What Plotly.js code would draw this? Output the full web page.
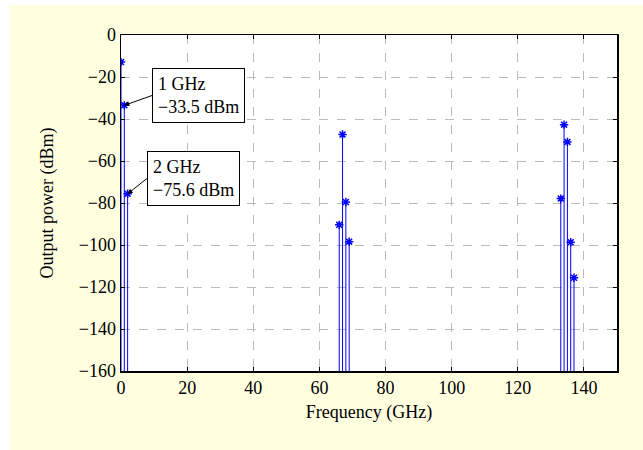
<!DOCTYPE html>
<html>
<head>
<meta charset="utf-8">
<script src="https://cdn.plot.ly/plotly-3.0.1.min.js"></script>
<style>html,body{margin:0;padding:0;background:#FFFFE0;overflow:hidden;}</style>
</head>
<body>
<div id="chart" style="width:643px;height:450px;"></div>
<script>
// Frequencies (GHz) and output power (dBm)
const freqs = [0, 1, 2, 66, 67, 68, 69, 133, 134, 135, 136, 137];
const powers = [-12.9, -33.5, -75.6, -90.4, -47.4, -79.5, -98.4, -77.9, -42.7, -50.9, -98.7, -115.6];
const baseLevel = -160;
const xTicks = [0, 20, 40, 60, 80, 100, 120, 140];
const yTicks = [0, -20, -40, -60, -80, -100, -120, -140, -160];
const annText = ["1 GHz<br>\u221233.5 dBm", "2 GHz<br>\u221275.6 dBm"];
const annFreq = [1, 2];
const annPower = [-33.5, -75.6];

const stemX = [], stemY = [];
freqs.forEach((f, i) => { stemX.push(f, f, null); stemY.push(baseLevel, powers[i], null); });

const font = {family: "Liberation Serif, Times New Roman, serif", size: 18, color: "#000"};

const traces = [
  {x: stemX, y: stemY, mode: "lines", type: "scatter", line: {color: "#0000ff", width: 1}, hoverinfo: "skip", showlegend: false},
  {x: freqs, y: powers, mode: "markers", type: "scatter", marker: {symbol: "asterisk", size: 7, color: "#0000ff", line: {color: "#0000ff", width: 1.5}}, showlegend: false}
];

const L = 121, R = 26, T = 35, B = 79;
const W = 643, H = 450;
const pw = W - L - R, ph = H - T - B;

// tail pixel positions (left edge / vertical centre of each box)
const tails = [[152, 95.5], [147, 178.5]];
const annotations = annFreq.map((f, i) => {
  const xpx = L + f / 150 * pw;
  const ypx = T + (0 - annPower[i]) / 160 * ph;
  return {x: f, y: annPower[i], xref: "x", yref: "y", text: annText[i], showarrow: true,
    arrowhead: 2, arrowsize: 1, arrowwidth: 1, arrowcolor: "#000",
    ax: tails[i][0] - xpx, ay: tails[i][1] - ypx, xanchor: "left", yanchor: "middle", align: "left",
    font: font, bgcolor: "#fff", bordercolor: "#000", borderwidth: 1, borderpad: 5};
});

const layout = {
  width: W, height: H,
  margin: {l: L, r: R, t: T, b: B, pad: 0},
  paper_bgcolor: "#FFFFE0",
  plot_bgcolor: "#ffffff",
  font: font,
  showlegend: false,
  xaxis: {
    range: [0, 150], tickvals: xTicks, ticktext: xTicks.map(String),
    showline: true, linecolor: "#000", linewidth: 1.5, mirror: "ticks",
    ticks: "inside", ticklen: 4, tickcolor: "#000",
    showgrid: true, gridcolor: "#bbbbbb", griddash: "dash", gridwidth: 1, zeroline: false,
    title: {text: "Frequency (GHz)", font: font, standoff: 8}, tickfont: font
  },
  yaxis: {
    range: [-160, 0], tickvals: yTicks,
    showline: true, linecolor: "#000", linewidth: 1.5, mirror: "ticks",
    ticks: "inside", ticklen: 4, tickcolor: "#000",
    showgrid: true, gridcolor: "#bbbbbb", griddash: "dash", gridwidth: 1, zeroline: false,
    title: {text: "Output power (dBm)", font: font, standoff: 20}, tickfont: font
  },
  shapes: [
    {type: "rect", xref: "paper", yref: "paper", x0: -0.3, x1: 1.2, y0: (H - B - 5) / ph, y1: 1.3, fillcolor: "#fff", line: {width: 0}, layer: "below"},
    {type: "rect", xref: "paper", yref: "paper", x0: -0.3, x1: (10 - L) / pw, y0: -0.4, y1: 1.3, fillcolor: "#fff", line: {width: 0}, layer: "below"}
  ],
  annotations: annotations
};

Plotly.newPlot("chart", traces, layout, {displayModeBar: false, staticPlot: true});
</script>
</body>
</html>
